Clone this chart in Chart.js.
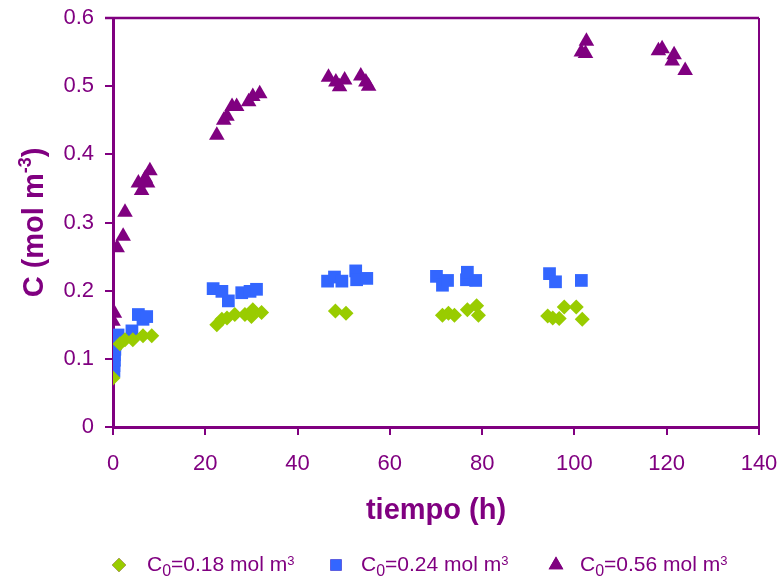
<!DOCTYPE html>
<html>
<head>
<meta charset="utf-8">
<script src="https://cdn.jsdelivr.net/npm/chart.js@4/dist/chart.umd.min.js"></script>
<style>
  html, body { margin: 0; padding: 0; background: #ffffff; }
  #wrap { width: 784px; height: 585px; }
</style>
</head>
<body>
<div id="wrap"><canvas id="chart" width="784" height="585"></canvas></div>
<script>
const PURPLE = '#800080';
const GREEN = '#99CC00';
const BLUE = '#3366FF';
const FONT = "'Liberation Sans', Arial, sans-serif";

// C0 = 0.18 mol m-3
const timeA = [0, 1.5, 2.6, 4.3, 6.5, 8.4, 22.5, 23.6, 24.7, 26.4, 28.6, 30.0, 30.3, 32.2, 48.2, 50.5, 71.4, 72.7, 74.0, 76.8, 78.8, 79.2, 94.2, 95.3, 96.7, 97.8, 100.4, 101.7];
const concA = [0.072, 0.122, 0.128, 0.128, 0.134, 0.134, 0.150, 0.158, 0.160, 0.165, 0.165, 0.162, 0.172, 0.168, 0.170, 0.167, 0.164, 0.167, 0.164, 0.172, 0.178, 0.164, 0.163, 0.160, 0.159, 0.176, 0.176, 0.158];

// C0 = 0.24 mol m-3
const timeB = [0.2, 0.2, 0.3, 0.3, 0.4, 0.5, 1.1, 4.1, 5.5, 6.5, 7.3, 21.7, 23.6, 25.0, 27.9, 29.7, 31.1, 46.5, 48.0, 49.6, 52.6, 52.8, 55.0, 70.1, 71.4, 72.5, 76.6, 76.8, 78.6, 94.6, 95.9, 101.5];
const concB = [0.082, 0.090, 0.098, 0.106, 0.114, 0.122, 0.135, 0.141, 0.165, 0.158, 0.162, 0.203, 0.199, 0.185, 0.197, 0.199, 0.202, 0.214, 0.220, 0.214, 0.229, 0.216, 0.218, 0.221, 0.208, 0.215, 0.216, 0.227, 0.215, 0.225, 0.213, 0.215];

// C0 = 0.56 mol m-3
const timeC = [0, 0.3, 0.9, 2.2, 2.6, 5.5, 6.2, 7.0, 7.5, 8.0, 22.5, 24.0, 24.7, 25.8, 26.8, 29.4, 30.3, 31.8, 46.7, 48.3, 49.1, 50.2, 53.7, 54.8, 55.4, 101.5, 102.4, 102.6, 118.2, 119.0, 121.2, 121.6, 124.0];
const concC = [0.155, 0.167, 0.263, 0.280, 0.315, 0.358, 0.347, 0.365, 0.358, 0.376, 0.428, 0.450, 0.456, 0.470, 0.470, 0.477, 0.485, 0.489, 0.513, 0.506, 0.499, 0.509, 0.515, 0.506, 0.500, 0.550, 0.548, 0.566, 0.552, 0.555, 0.537, 0.546, 0.523];

const seriesValues = ['0.18', '0.24', '0.56'];
const xTicks = [0, 20, 40, 60, 80, 100, 120, 140];
const yTicks = [0, 0.1, 0.2, 0.3, 0.4, 0.5, 0.6];

const toPoints = (xs, ys) => xs.map((x, i) => ({ x, y: ys[i] }));

// text with sub/superscript pieces: [text, 'n' | 'sub' | 'sup']
const SCRIPT = { sub: { scale: 0.75, dy: 0.3 }, sup: { scale: 0.62, dy: -0.17 } };

function pieceSize(kind, size) {
    return kind === 'n' ? size : Math.round(size * SCRIPT[kind].scale);
}

function richWidth(ctx, parts, size, weight) {
    let w = 0;
    parts.forEach(([t, kind]) => {
        ctx.font = `${weight} ${pieceSize(kind, size)}px ${FONT}`;
        w += ctx.measureText(t).width;
    });
    return w;
}

function drawRich(ctx, parts, x, y, size, weight, color, supRaise) {
    ctx.fillStyle = color;
    ctx.textBaseline = 'middle';
    ctx.textAlign = 'left';
    let cx = x;
    parts.forEach(([t, kind]) => {
        ctx.font = `${weight} ${pieceSize(kind, size)}px ${FONT}`;
        let dy = 0;
        if (kind === 'sub') dy = size * SCRIPT.sub.dy;
        if (kind === 'sup') dy = size * (supRaise !== undefined ? supRaise : SCRIPT.sup.dy);
        ctx.fillText(t, cx, y + dy);
        cx += ctx.measureText(t).width;
    });
}

// keep the plot box fixed: tick labels may overhang into the margins
function noScalePadding(scale) {
    scale.paddingTop = 0;
    scale.paddingBottom = 0;
    scale.paddingLeft = 0;
    scale.paddingRight = 0;
}

const frameAndLabels = {
    id: 'frameAndLabels',
    afterDraw(chart) {
        const { ctx, chartArea: a } = chart;
        ctx.save();

        // top and right edges of the plot box
        ctx.strokeStyle = PURPLE;
        ctx.lineWidth = 2.5;
        ctx.beginPath();
        ctx.moveTo(a.left - 8, a.top);
        ctx.lineTo(a.right, a.top);
        ctx.stroke();
        ctx.lineWidth = 2;
        ctx.beginPath();
        ctx.moveTo(a.right, a.top);
        ctx.lineTo(a.right, a.bottom);
        ctx.stroke();

        // rotated y axis title
        const yTitle = [['C (mol m', 'n'], ['-3', 'sup'], [')', 'n']];
        const w = richWidth(ctx, yTitle, 29, 'bold');
        ctx.translate(35, (a.top + a.bottom) / 2);
        ctx.rotate(-Math.PI / 2);
        drawRich(ctx, yTitle, -w / 2, 0, 29, 'bold', PURPLE, -0.3);
        ctx.setTransform(1, 0, 0, 1, 0, 0);

        // legend row under the axis title
        const markerX = [119, 336, 556];
        const textX = [147, 361, 580];
        const ly = 565;
        chart.data.datasets.forEach((ds, i) => {
            Chart.helpers.drawPoint(ctx, {
                pointStyle: ds.pointStyle,
                radius: ds.legendRadius,
                borderWidth: 0
            }, markerX[i], ly);
            ctx.fillStyle = ds.backgroundColor;
            ctx.fill();
            drawRich(ctx, [['C', 'n'], ['0', 'sub'], ['=' + seriesValues[i] + ' mol m', 'n'], ['3', 'sup']],
                textX[i], ly, 21, 'normal', PURPLE);
        });

        ctx.restore();
    }
};

const makeSet = (xs, ys, color, style, r, lr) => ({
    data: toPoints(xs, ys),
    backgroundColor: color,
    borderColor: color,
    borderWidth: 0,
    pointStyle: style,
    pointRadius: r,
    pointHoverRadius: r,
    legendRadius: lr
});

new Chart(document.getElementById('chart'), {
    type: 'scatter',
    data: {
        datasets: [
            makeSet(timeA, concA, GREEN, 'rectRot', 7.5, 7),
            makeSet(timeB, concB, BLUE, 'rect', 9, 8),
            makeSet(timeC, concC, PURPLE, 'triangle', 9, 8.5)
        ]
    },
    options: {
        responsive: false,
        devicePixelRatio: 1,
        animation: false,
        layout: { padding: { top: 18, right: 25, left: 0, bottom: 0 } },
        plugins: {
            legend: { display: false },
            tooltip: { enabled: false }
        },
        scales: {
            x: {
                type: 'linear',
                min: 0,
                max: 140,
                afterFit(scale) { scale.height = 158; noScalePadding(scale); },
                afterBuildTicks(scale) { scale.ticks = xTicks.map(v => ({ value: v })); },
                border: { display: true, color: PURPLE, width: 3 },
                grid: { drawOnChartArea: false, drawTicks: true, tickLength: 8, color: PURPLE, lineWidth: 2 },
                ticks: { color: PURPLE, padding: 16, maxRotation: 0, font: { family: FONT, size: 22 } },
                title: {
                    display: true,
                    text: 'tiempo (h)',
                    color: PURPLE,
                    font: { family: FONT, size: 29, weight: 'bold' },
                    padding: { top: 0, bottom: 57 }
                }
            },
            y: {
                type: 'linear',
                min: 0,
                max: 0.6,
                afterFit(scale) { scale.width = 113; noScalePadding(scale); },
                afterBuildTicks(scale) { scale.ticks = yTicks.map(v => ({ value: v })); },
                border: { display: true, color: PURPLE, width: 3 },
                grid: { drawOnChartArea: false, drawTicks: true, tickLength: 8, color: PURPLE, lineWidth: 2 },
                ticks: {
                    color: PURPLE,
                    padding: 11,
                    font: { family: FONT, size: 22 },
                    callback: v => String(+v.toFixed(1))
                }
            }
        }
    },
    plugins: [frameAndLabels]
});
</script>
</body>
</html>
